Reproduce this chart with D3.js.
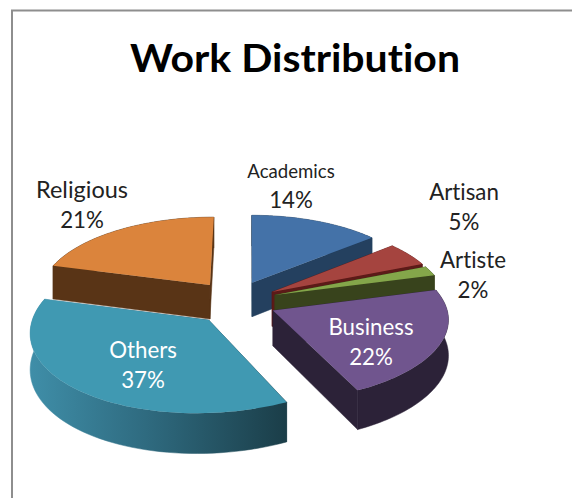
<!DOCTYPE html>
<html>
<head>
<meta charset="utf-8">
<script src="https://cdn.jsdelivr.net/npm/d3@7"></script>
<style>
html,body{margin:0;padding:0;background:#fff;overflow:hidden}
text{font-family:Lato,"Open Sans",sans-serif;font-variant-ligatures:none}
</style>
</head>
<body>
<svg id="chart" width="572" height="498"></svg>
<script>
// Work distribution, percent of total
const categories = ["Academics", "Artisan", "Artiste", "Business", "Others", "Religious"];
const shares = [14, 5, 2, 22, 37, 21];

// Appearance of each slice
const topColors  = ["#4472a8", "#a5443f", "#84a64a", "#70558e", "#4099b2", "#db843c"];
const wallColors = ["#24405f", "#5c1a18", "#38431c", "#2c2238", "url(#othersWall)", "#593416"];
const labelColors = ["#222", "#222", "#222", "#fff", "#fff", "#222"];
const labelSizes = [18.6, 22.3, 22.3, 22.3, 22.3, 23.5];

// Pulled-out distance of each slice on the disc plane, in radius units
const pullX = [0.012, 0.130, 0.146, 0.132, -0.232, -0.238];
const pullY = [-0.265, -0.143, -0.103, 0.095, 0.212, -0.235];

// Label anchor of each slice, and the order slices are painted back to front
const labelX = [291, 464, 473, 371, 143, 82];
const labelY = [178, 200, 268, 335, 358, 198];
const paintOrder = [5, 0, 1, 2, 4, 3];

// Camera: screen centre, disc radius, foreshortening, perspective strength,
// extrusion, and a leftward lean of the near half of the disc
const cam = { x: 250, y: 303, r: 172.5, ry: 78.9, k: 0.109, depth: 35, lean: 5 };

function project(X, Y, lifted) {
  const s = 1 / (1 - cam.k * Y);
  const lean = Y > 0 ? cam.lean * Y * Y : 0;
  return [cam.x + s * cam.r * X - lean, cam.y + s * cam.ry * Y + (lifted ? 0 : s * cam.depth)];
}

const svg = d3.select("#chart");

const grad = svg.append("defs").append("linearGradient")
  .attr("id", "othersWall").attr("gradientUnits", "userSpaceOnUse")
  .attr("x1", 30).attr("x2", 285).attr("y1", 0).attr("y2", 0);
grad.append("stop").attr("offset", 0).attr("stop-color", "#3f8ea8");
grad.append("stop").attr("offset", 0.45).attr("stop-color", "#2f6b80");
grad.append("stop").attr("offset", 1).attr("stop-color", "#1b3e49");

// Frame around the chart area
svg.append("path").attr("d", "M12,498V10.500H572")
  .attr("fill", "none").attr("stroke", "#8e8e8e").attr("stroke-width", 2);

svg.append("text").attr("x", 295).attr("y", 72).attr("text-anchor", "middle")
  .attr("font-size", 37.5).attr("font-weight", 700).attr("fill", "#000")
  .attr("textLength", 330).attr("lengthAdjust", "spacingAndGlyphs")
  .text("Work Distribution");

const arcs = d3.pie().sort(null).value(d => d)(shares);
const line = d3.line();

// Slice outline on the disc plane: the rim sampled along the arc
function rim(a, i) {
  const steps = d3.range(0, 61).map(n => a.startAngle + (a.endAngle - a.startAngle) * n / 60);
  return steps.map(t => [Math.sin(t) + pullX[i], -Math.cos(t) + pullY[i]]);
}

paintOrder.forEach(i => {
  const pts = rim(arcs[i], i);
  const apex = [pullX[i], pullY[i]];
  const g = svg.append("g").attr("class", "slice");
  const wall = c => c.map(p => project(p[0], p[1], false)).reverse();
  const up = c => c.map(p => project(p[0], p[1], true));

  // Outer wall and the two cut faces, each extruded downward
  [pts, [apex, pts[0]], [apex, pts[pts.length - 1]]].forEach(c => {
    g.append("path").attr("d", line(up(c).concat(wall(c))) + "Z")
      .attr("fill", wallColors[i]).attr("stroke", wallColors[i]).attr("stroke-width", 0.5);
  });
  // Top face
  g.append("path").attr("d", line(up([apex].concat(pts))) + "Z").attr("fill", topColors[i]);
});

// Category and percentage labels
categories.forEach((name, i) => {
  const t = svg.append("text").attr("text-anchor", "middle").attr("fill", labelColors[i]);
  t.append("tspan").attr("x", labelX[i]).attr("y", labelY[i])
    .attr("font-size", labelSizes[i]).text(name);
  t.append("tspan").attr("x", labelX[i]).attr("y", labelY[i] + 29.500)
    .attr("font-size", 22.3).text(shares[i] + "%");
});
</script>
</body>
</html>
